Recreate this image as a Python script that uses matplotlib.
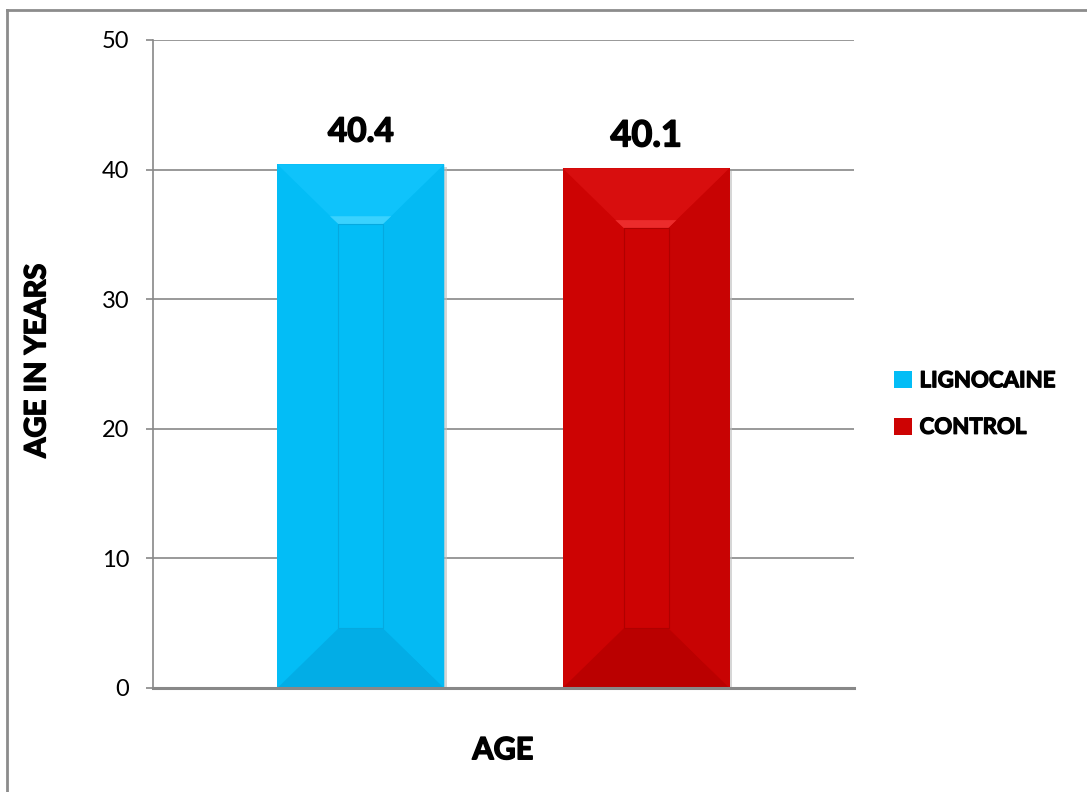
import matplotlib
matplotlib.use("Agg")
import matplotlib.pyplot as plt
import matplotlib.patheffects as pe
from matplotlib.patches import Polygon, Rectangle
from matplotlib.lines import Line2D

# Mean age of the two study groups
categories = ["AGE"]
series_names = ["LIGNOCAINE", "CONTROL"]
mean_age = [40.4, 40.1]
y_ticks = [0, 10, 20, 30, 40, 50]

# Face colours for the bevelled bars: main, top, top highlight, bottom, right side
bar_styles = [
    dict(main="#03BDF6", top="#0FC3FB", hi="#45D6FF", bottom="#02ADE6", right="#04BAF3", edge="#05A9DF"),
    dict(main="#CD0303", top="#D80E0E", hi="#F23434", bottom="#BA0000", right="#C80303", edge="#B00000"),
]
label_sizes = [24, 26]

FONT = ["Lato", "DejaVu Sans"]
plt.rcParams["font.family"] = FONT

# slightly heavier strokes for the bold texts
heavy = [pe.withStroke(linewidth=1.1, foreground="black")]

fig = plt.figure(figsize=(10.87, 7.92), dpi=100)
ax = fig.add_axes([153 / 1087, 1 - 688 / 792, 701 / 1087, 648 / 792])

x_center = 0
offset = 0.2035
width = 0.238
positions = [x_center - offset, x_center + offset]

bars = ax.bar(positions, mean_age, width=width, color=[s["main"] for s in bar_styles],
              edgecolor="none", zorder=3)

# bevel depth in data units
dx = 0.087
dy = 4.6

for rect, style, val, fs in zip(bars, bar_styles, mean_age, label_sizes):
    x0 = rect.get_x()
    x1 = x0 + rect.get_width()
    y0 = 0
    y1 = rect.get_height()
    ix0, ix1 = x0 + dx, x1 - dx
    iy0, iy1 = y0 + dy, y1 - dy
    # soft shadow on the right
    ax.add_patch(Rectangle((x1, y0), 0.004, y1 - 0.2, color="#BBBBBB", alpha=0.6, zorder=2, lw=0))
    # top face
    ax.add_patch(Polygon([(x0, y1), (x1, y1), (ix1, iy1), (ix0, iy1)], closed=True,
                         facecolor=style["top"], edgecolor="none", zorder=4))
    # highlight near the inner top edge
    ax.add_patch(Polygon([(ix0 - 0.012, iy1 + 0.6), (ix1 + 0.012, iy1 + 0.6), (ix1, iy1), (ix0, iy1)],
                         closed=True, facecolor=style["hi"], edgecolor="none", zorder=4, alpha=0.8))
    # bottom face
    ax.add_patch(Polygon([(x0, y0), (x1, y0), (ix1, iy0), (ix0, iy0)], closed=True,
                         facecolor=style["bottom"], edgecolor="none", zorder=4))
    # right face
    ax.add_patch(Polygon([(x1, y1), (x1, y0), (ix1, iy0), (ix1, iy1)], closed=True,
                         facecolor=style["right"], edgecolor="none", zorder=4))
    # inner panel
    ax.add_patch(Rectangle((ix0, iy0), ix1 - ix0, iy1 - iy0, facecolor=style["main"],
                           edgecolor=style["edge"], lw=0.8, zorder=5))
    ax.text((x0 + x1) / 2, y1 + 2.5, f"{val}", ha="center", va="center",
            fontsize=fs, fontweight="bold", color="black", family=FONT, path_effects=heavy)

ax.set_xlim(-0.5, 0.5)
ax.set_ylim(0, 50)
ax.set_yticks(y_ticks)
ax.set_xticks([])
ax.tick_params(axis="y", length=5, width=1.2, color="#888888", pad=12, labelsize=17)
ax.grid(axis="y", color="#888888", linewidth=1.2, zorder=0)
ax.set_axisbelow(True)
for side in ["top", "right"]:
    ax.spines[side].set_visible(False)
ax.spines["left"].set_color("#888888")
ax.spines["left"].set_linewidth(1.2)
ax.spines["bottom"].set_color("#888888")
ax.spines["bottom"].set_linewidth(2.2)
ax.spines["bottom"].set_zorder(6)

ax.set_ylabel("AGE IN YEARS", fontsize=21, fontweight="bold", path_effects=heavy)
ax.yaxis.set_label_coords(-0.165, 0.505)
ax.set_xlabel(categories[0], fontsize=22, fontweight="bold", path_effects=heavy)
ax.xaxis.set_label_coords(0.499, -0.096)
ax.xaxis.label.set_va("center")
ax.yaxis.label.set_va("center")

handles = [Rectangle((0, 0), 1, 1, facecolor=s["main"], edgecolor="none") for s in bar_styles]
leg = fig.legend(handles, series_names, loc="center left", bbox_to_anchor=(894 / 1087, 1 - 404 / 792),
                 frameon=False, prop={"weight": "bold", "size": 16},
                 handlelength=0.8, handleheight=0.8, handletextpad=0.35,
                 labelspacing=1.15, borderpad=0, borderaxespad=0)
for t in leg.get_texts():
    t.set_path_effects([pe.withStroke(linewidth=0.9, foreground="black")])

# outer chart-area border (left and top edges)
fig.add_artist(Line2D([7 / 1087, 7 / 1087], [0, 1 - 10 / 792], transform=fig.transFigure,
                      color="#8C8C8C", lw=2))
fig.add_artist(Line2D([7 / 1087, 1], [1 - 10 / 792, 1 - 10 / 792], transform=fig.transFigure,
                      color="#8C8C8C", lw=2))

fig.savefig("out.png", dpi=100, facecolor="white")
